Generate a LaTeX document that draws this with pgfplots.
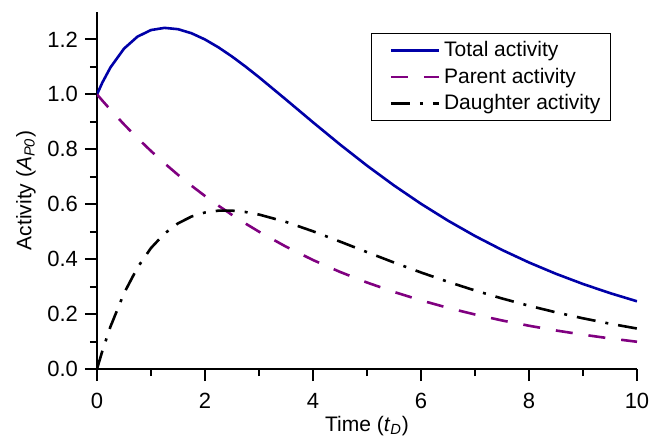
\documentclass[border=0pt]{standalone}
\usepackage{fontspec}
\setmainfont{Liberation Sans}
\usepackage{pgfplots}
\pgfplotsset{compat=1.18}
\definecolor{totalblue}{HTML}{0000A8}
\definecolor{parentpurple}{HTML}{800080}

\pgfplotstableread{
t P D T
0    1.00000 0.00000 1.00000
0.1  0.97716 0.06620 1.04336
0.25 0.94388 0.15447 1.09835
0.5  0.89090 0.27569 1.16659
0.75 0.84090 0.36945 1.21035
1    0.79370 0.44055 1.23425
1.25 0.74915 0.49305 1.24220
1.5  0.70711 0.53034 1.23745
1.75 0.66742 0.55518 1.22260
2    0.62996 0.56994 1.19990
2.25 0.59460 0.57657 1.17117
2.5  0.56123 0.57668 1.13791
2.75 0.52973 0.57162 1.10135
3    0.50000 0.56250 1.06250
3.5  0.44545 0.53559 0.98104
4    0.39685 0.50153 0.89838
4.5  0.35355 0.46404 0.81759
5    0.31498 0.42560 0.74058
5.5  0.28062 0.38778 0.66840
6    0.25000 0.35156 0.60156
6.5  0.22272 0.31751 0.54023
7    0.19843 0.28592 0.48435
7.5  0.17678 0.25688 0.43366
8    0.15749 0.23037 0.38786
8.5  0.14031 0.20632 0.34663
9    0.12500 0.18457 0.30957
9.5  0.11136 0.16497 0.27633
10   0.09921 0.14735 0.24657
}\decay

\begin{document}
\begin{tikzpicture}
\begin{axis}[name=ax,scale only axis,width=270pt,height=178.5pt,
 xmin=0,xmax=10,ymin=0,ymax=1.3,
 axis lines=left,axis line style={line width=1pt,-},
 xtick={0,2,...,10},ytick={0,0.2,...,1.2},
 minor x tick num=1,minor y tick num=1,
 tick align=outside,major tick length=6pt,minor tick length=3.5pt,
 every tick/.style={black,line width=1pt},
 /pgf/number format/assume math mode=true,
 yticklabel style={/pgf/number format/.cd,fixed,fixed zerofill,precision=1},
 xticklabel style={yshift=-2.5pt},
 tick label style={font=\fontsize{11}{13}\selectfont},
 label style={font=\fontsize{10.5}{12.5}\selectfont},
 xlabel={Time (\textit{t}\textsubscript{\textit{D}})},
 ylabel={Activity (\textit{A}\textsubscript{\textit{P0}})},
 xlabel style={yshift=3pt},
 ylabel style={yshift=-1pt},
 legend style={font=\fontsize{10.5}{12.5}\selectfont,at={(0.952,0.941)},anchor=north east,
  draw=black,line width=0.6pt,inner xsep=3pt,inner ysep=2pt,row sep=0pt,
  nodes={inner xsep=2pt}},
 legend cell align=left,
 legend image code/.code={\path (0pt,0pt); \draw[#1] (6pt,0pt) -- (30pt,0pt);}]
\addplot[totalblue,line width=1.3pt] table[x=t,y=T] {\decay};
\addlegendentry{Total activity}
\addplot[parentpurple,line width=1.3pt,dash pattern=on 8.5pt off 8pt] table[x=t,y=P] {\decay};
\addlegendentry{Parent activity}
\addplot[black,line width=1.3pt,dash pattern=on 9.5pt off 5pt on 1.5pt off 5pt] table[x=t,y=D] {\decay};
\addlegendentry{Daughter activity}
\end{axis}
\pgfresetboundingbox
\path ([shift={(-48.5pt,-35.5pt)}]ax.south west) rectangle ([shift={(6pt,6pt)}]ax.north east);
\end{tikzpicture}
\end{document}
